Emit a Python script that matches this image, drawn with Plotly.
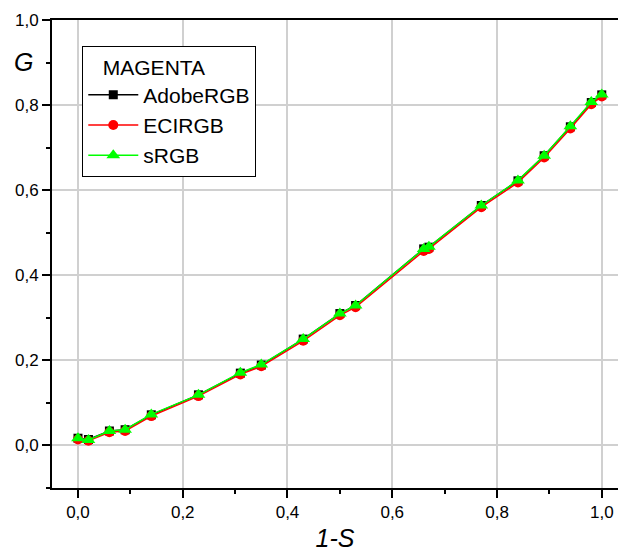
import plotly.graph_objects as go

x_values = [0.0, 0.02, 0.06, 0.09, 0.14, 0.23, 0.31, 0.35, 0.43, 0.50, 0.53, 0.66, 0.67, 0.77, 0.84, 0.89, 0.94, 0.98, 1.0]
adobe_rgb = [0.017, 0.014, 0.034, 0.037, 0.072, 0.119, 0.170, 0.189, 0.250, 0.310, 0.329, 0.462, 0.466, 0.564, 0.622, 0.681, 0.749, 0.806, 0.824]
eci_rgb = [0.014, 0.011, 0.031, 0.034, 0.069, 0.116, 0.167, 0.186, 0.246, 0.306, 0.325, 0.457, 0.462, 0.560, 0.618, 0.677, 0.745, 0.802, 0.820]
s_rgb = [0.017, 0.013, 0.034, 0.037, 0.073, 0.119, 0.171, 0.190, 0.250, 0.310, 0.329, 0.462, 0.467, 0.564, 0.623, 0.681, 0.750, 0.807, 0.825]
x_ticks = [0.0, 0.2, 0.4, 0.6, 0.8, 1.0]
x_tick_labels = ["0,0", "0,2", "0,4", "0,6", "0,8", "1,0"]
y_ticks = [0.0, 0.2, 0.4, 0.6, 0.8, 1.0]
y_tick_labels = ["0,0", "0,2", "0,4", "0,6", "0,8", "1,0"]

FONT = "Liberation Sans, Arial, sans-serif"

fig = go.Figure()
fig.add_trace(go.Scatter(x=x_values, y=adobe_rgb, name="AdobeRGB", mode="lines+markers",
                         line=dict(color="black", width=1.5),
                         marker=dict(symbol="square", size=9, color="black")))
fig.add_trace(go.Scatter(x=x_values, y=eci_rgb, name="ECIRGB", mode="lines+markers",
                         line=dict(color="#ff0000", width=1.5),
                         marker=dict(symbol="circle", size=10, color="#ff0000")))
fig.add_trace(go.Scatter(x=x_values, y=s_rgb, name="sRGB", mode="lines+markers",
                         line=dict(color="#00ff00", width=1.5),
                         marker=dict(symbol="triangle-up", size=12, color="#00ff00")))

fig.update_layout(
    width=618, height=559,
    margin=dict(l=52, r=0, t=20, b=71),
    paper_bgcolor="white", plot_bgcolor="white",
    font=dict(family=FONT, color="black"),
    showlegend=True,
    legend=dict(
        x=0.0535, y=0.944, xanchor="left", yanchor="top",
        bgcolor="white", bordercolor="black", borderwidth=1,
        font=dict(size=21, family=FONT),
        title=dict(text="&nbsp;&nbsp;&nbsp;MAGENTA", font=dict(size=21, family=FONT)),
        tracegroupgap=0, itemwidth=50,
    ),
    xaxis=dict(
        range=[-0.0496, 1.031],
        tickmode="array", tickvals=x_ticks, ticktext=x_tick_labels,
        ticks="outside", ticklen=8, tickwidth=2, tickcolor="black",
        tickfont=dict(size=17, family=FONT),
        showline=True, linecolor="black", linewidth=2, mirror=True,
        showgrid=True, gridcolor="#d0d0d0", gridwidth=1.5,
        zeroline=False,
        minor=dict(dtick=0.1, tick0=0, ticks="outside", ticklen=4, tickwidth=2, tickcolor="black", showgrid=False),
        title=dict(text="<i>1-S</i>", font=dict(size=25, family=FONT), standoff=8),
    ),
    yaxis=dict(
        range=[-0.1, 1.0],
        tickmode="array", tickvals=y_ticks, ticktext=y_tick_labels,
        ticks="outside", ticklen=8, tickwidth=2, tickcolor="black",
        tickfont=dict(size=17, family=FONT),
        showline=True, linecolor="black", linewidth=2,
        showgrid=True, gridcolor="#d0d0d0", gridwidth=1.5,
        zeroline=False,
        minor=dict(dtick=0.1, tick0=0, ticks="outside", ticklen=4, tickwidth=2, tickcolor="black", showgrid=False),
    ),
    annotations=[dict(text="<i>G</i>", xref="paper", yref="paper", x=-0.05, y=0.91,
                      xanchor="center", yanchor="middle", showarrow=False,
                      font=dict(size=25, family=FONT))],
)

fig.write_html("out.html", config={"displayModeBar": False},
               post_script="document.body.style.margin='0';document.body.style.overflow='hidden';")
